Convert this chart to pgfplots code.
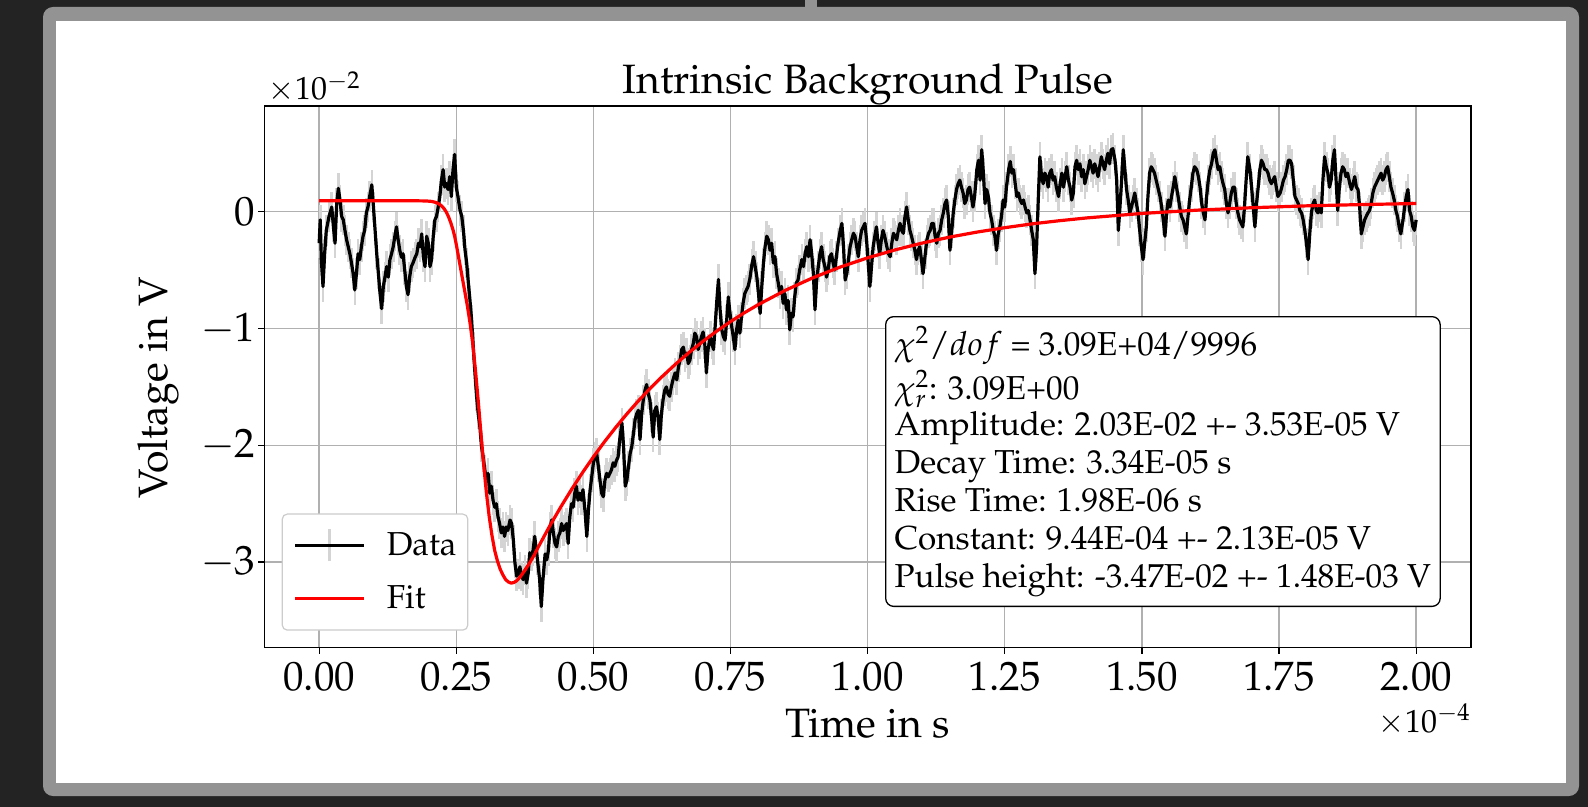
\documentclass[border=0pt]{standalone}
\usepackage[T1]{fontenc}
\usepackage{mathpazo}
\usepackage{pgfplots}
\usepackage{pgfplotstable}
\pgfplotsset{compat=1.18}
\definecolor{bgdark}{HTML}{232323}
\definecolor{framegray}{HTML}{939393}
\definecolor{gridgray}{HTML}{B0B0B0}
\definecolor{errgray}{HTML}{D4D4D4}
\definecolor{legborder}{HTML}{CCCCCC}
\newcommand{\bigfont}{\fontsize{20.5}{24}\selectfont}
\newcommand{\boxfont}{\fontsize{16.6}{18.9}\selectfont}
\newcommand{\legfont}{\fontsize{16.6}{19}\selectfont}
\newcommand{\offfont}{\fontsize{16}{19}\selectfont}

\pgfplotstableread{
t v
0.000 -0.27
0.002 -0.07
0.004 -0.41
0.007 -0.64
0.010 -0.36
0.013 -0.16
0.018 -0.04
0.023 0.04
0.026 -0.13
0.029 -0.27
0.032 0.07
0.035 0.20
0.038 0.10
0.041 -0.04
0.044 -0.07
0.047 -0.16
0.050 -0.24
0.053 -0.30
0.056 -0.36
0.059 -0.44
0.062 -0.53
0.065 -0.67
0.068 -0.53
0.071 -0.36
0.074 -0.41
0.077 -0.30
0.080 -0.21
0.083 -0.16
0.086 -0.01
0.089 0.04
0.092 0.13
0.096 0.23
0.099 0.04
0.102 -0.16
0.105 -0.36
0.108 -0.53
0.111 -0.70
0.114 -0.83
0.117 -0.64
0.120 -0.56
0.123 -0.47
0.126 -0.56
0.129 -0.41
0.132 -0.36
0.135 -0.30
0.138 -0.21
0.141 -0.13
0.144 -0.24
0.147 -0.33
0.150 -0.39
0.153 -0.36
0.156 -0.50
0.159 -0.64
0.162 -0.71
0.165 -0.56
0.168 -0.47
0.171 -0.44
0.175 -0.39
0.178 -0.36
0.181 -0.27
0.184 -0.30
0.187 -0.19
0.190 -0.39
0.193 -0.47
0.196 -0.21
0.199 -0.27
0.202 -0.47
0.205 -0.41
0.208 -0.21
0.211 -0.07
0.214 -0.04
0.217 0.04
0.220 0.13
0.223 0.27
0.226 0.36
0.229 0.21
0.232 0.24
0.235 0.19
0.238 0.30
0.241 0.13
0.244 0.36
0.247 0.49
0.250 0.21
0.253 0.13
0.257 0.01
0.260 -0.04
0.263 -0.16
0.266 -0.33
0.269 -0.44
0.272 -0.61
0.275 -0.76
0.278 -0.93
0.281 -1.16
0.284 -1.38
0.287 -1.58
0.290 -1.73
0.293 -1.84
0.296 -2.01
0.299 -2.10
0.302 -2.21
0.305 -2.30
0.308 -2.24
0.311 -2.41
0.314 -2.35
0.317 -2.47
0.320 -2.53
0.323 -2.50
0.326 -2.61
0.329 -2.67
0.332 -2.75
0.335 -2.70
0.338 -2.78
0.341 -2.70
0.344 -2.73
0.348 -2.64
0.351 -2.67
0.354 -2.81
0.357 -3.01
0.360 -3.12
0.363 -3.10
0.366 -3.04
0.369 -3.12
0.372 -3.15
0.375 -3.07
0.378 -3.18
0.381 -3.10
0.384 -2.92
0.387 -2.95
0.390 -2.90
0.393 -2.78
0.398 -2.98
0.402 -3.15
0.405 -3.38
0.408 -3.15
0.412 -2.93
0.415 -2.98
0.418 -2.90
0.421 -2.70
0.424 -2.64
0.427 -2.75
0.430 -2.84
0.433 -2.87
0.436 -2.78
0.439 -2.75
0.442 -2.67
0.445 -2.73
0.448 -2.70
0.451 -2.67
0.454 -2.84
0.457 -2.61
0.460 -2.50
0.463 -2.53
0.466 -2.41
0.469 -2.35
0.472 -2.47
0.475 -2.41
0.478 -2.47
0.481 -2.38
0.485 -2.58
0.488 -2.78
0.491 -2.55
0.494 -2.38
0.497 -2.27
0.500 -2.15
0.503 -2.10
0.506 -2.07
0.509 -2.18
0.512 -2.30
0.515 -2.41
0.518 -2.44
0.521 -2.30
0.524 -2.24
0.527 -2.27
0.530 -2.24
0.533 -2.21
0.536 -2.15
0.539 -2.18
0.542 -2.13
0.545 -2.10
0.548 -1.95
0.552 -1.81
0.555 -2.01
0.558 -2.35
0.561 -2.30
0.564 -2.18
0.567 -2.07
0.570 -2.01
0.573 -1.90
0.576 -1.78
0.579 -1.73
0.582 -1.70
0.585 -1.95
0.588 -1.73
0.591 -1.61
0.594 -1.53
0.597 -1.48
0.600 -1.56
0.603 -1.61
0.606 -1.76
0.609 -1.93
0.612 -1.70
0.615 -1.67
0.618 -1.76
0.621 -1.95
0.624 -1.73
0.627 -1.61
0.630 -1.53
0.633 -1.50
0.636 -1.56
0.639 -1.58
0.642 -1.50
0.645 -1.44
0.649 -1.38
0.652 -1.44
0.655 -1.33
0.658 -1.27
0.661 -1.18
0.664 -1.16
0.667 -1.24
0.670 -1.21
0.673 -1.30
0.676 -1.27
0.679 -1.18
0.682 -1.13
0.685 -1.04
0.688 -1.07
0.691 -1.18
0.694 -1.13
0.697 -1.07
0.700 -1.03
0.703 -1.13
0.706 -1.38
0.709 -1.18
0.713 -1.07
0.716 -1.13
0.719 -1.18
0.722 -0.98
0.725 -0.76
0.728 -0.58
0.731 -0.84
0.734 -1.01
0.737 -1.07
0.740 -1.10
0.743 -0.93
0.746 -0.73
0.749 -0.87
0.752 -0.98
0.755 -1.07
0.758 -1.18
0.761 -1.01
0.764 -0.93
0.767 -1.04
0.770 -0.90
0.773 -0.78
0.776 -0.70
0.779 -0.67
0.782 -0.64
0.785 -0.58
0.789 -0.45
0.792 -0.385
0.795 -0.47
0.798 -0.56
0.801 -0.70
0.804 -0.87
0.807 -0.64
0.810 -0.44
0.813 -0.30
0.816 -0.21
0.819 -0.24
0.822 -0.33
0.825 -0.27
0.828 -0.44
0.831 -0.385
0.834 -0.53
0.837 -0.61
0.840 -0.70
0.843 -0.64
0.846 -0.785
0.849 -0.70
0.852 -0.84
0.855 -0.76
0.858 -1.01
0.861 -0.87
0.864 -0.90
0.867 -0.73
0.870 -0.61
0.873 -0.585
0.876 -0.50
0.880 -0.41
0.883 -0.47
0.886 -0.36
0.889 -0.30
0.892 -0.385
0.895 -0.24
0.898 -0.36
0.901 -0.53
0.904 -0.84
0.907 -0.585
0.910 -0.47
0.913 -0.36
0.916 -0.30
0.919 -0.41
0.922 -0.47
0.925 -0.56
0.928 -0.50
0.931 -0.385
0.934 -0.36
0.937 -0.44
0.940 -0.50
0.943 -0.385
0.946 -0.27
0.950 -0.16
0.953 -0.10
0.956 -0.30
0.959 -0.585
0.962 -0.53
0.965 -0.41
0.968 -0.30
0.971 -0.24
0.974 -0.185
0.977 -0.21
0.980 -0.30
0.983 -0.385
0.986 -0.24
0.989 -0.16
0.992 -0.13
0.995 -0.10
0.998 -0.24
1.001 -0.44
1.004 -0.64
1.007 -0.47
1.010 -0.30
1.013 -0.21
1.016 -0.13
1.019 -0.27
1.022 -0.36
1.025 -0.24
1.028 -0.16
1.031 -0.21
1.035 -0.30
1.038 -0.36
1.041 -0.385
1.044 -0.27
1.047 -0.185
1.050 -0.21
1.053 -0.24
1.056 -0.16
1.059 -0.10
1.062 -0.16
1.065 -0.185
1.068 -0.04
1.071 0.04
1.074 -0.07
1.077 -0.16
1.080 -0.21
1.083 -0.27
1.086 -0.33
1.089 -0.41
1.092 -0.33
1.095 -0.30
1.098 -0.41
1.101 -0.53
1.105 -0.36
1.108 -0.24
1.111 -0.185
1.114 -0.16
1.117 -0.10
1.120 -0.10
1.123 -0.21
1.126 -0.27
1.129 -0.185
1.132 -0.16
1.135 -0.07
1.138 -0.01
1.141 0.07
1.144 0.10
1.147 -0.04
1.150 -0.33
1.153 -0.185
1.156 -0.01
1.159 0.10
1.162 0.19
1.165 0.24
1.168 0.27
1.171 0.21
1.174 0.16
1.177 0.07
1.180 0.10
1.183 0.19
1.186 0.21
1.189 0.13
1.192 0.04
1.195 0.13
1.199 0.36
1.202 0.44
1.205 0.27
1.208 0.53
1.211 0.33
1.214 0.07
1.217 0.19
1.220 0.13
1.223 -0.01
1.226 -0.07
1.229 -0.16
1.232 -0.21
1.235 -0.33
1.238 -0.19
1.241 -0.13
1.244 -0.04
1.247 0.10
1.250 0.04
1.253 0.21
1.257 0.36
1.260 0.43
1.263 0.33
1.266 0.36
1.269 0.24
1.272 0.13
1.275 0.16
1.278 0.10
1.281 0.07
1.284 0.10
1.287 0.04
1.290 -0.01
1.293 0.01
1.296 -0.07
1.299 -0.16
1.302 -0.24
1.305 -0.53
1.308 -0.30
1.311 0.10
1.314 0.47
1.317 0.30
1.320 0.24
1.323 0.33
1.326 0.30
1.329 0.21
1.332 0.33
1.335 0.36
1.338 0.27
1.341 0.30
1.344 0.21
1.348 0.13
1.351 0.24
1.354 0.33
1.357 0.21
1.360 0.30
1.363 0.385
1.366 0.27
1.369 0.21
1.372 0.10
1.375 0.16
1.378 0.385
1.381 0.44
1.384 0.36
1.387 0.41
1.390 0.30
1.393 0.36
1.396 0.24
1.399 0.30
1.402 0.36
1.405 0.44
1.408 0.385
1.411 0.33
1.414 0.41
1.417 0.36
1.420 0.30
1.423 0.385
1.426 0.47
1.429 0.41
1.432 0.36
1.435 0.44
1.438 0.50
1.441 0.41
1.444 0.53
1.447 0.54
1.451 0.44
1.454 0.27
1.457 -0.16
1.460 0.04
1.463 0.27
1.466 0.53
1.469 0.36
1.472 0.19
1.475 0.10
1.478 -0.01
1.481 0.04
1.484 0.10
1.487 0.16
1.490 0.07
1.493 -0.01
1.496 -0.16
1.499 -0.30
1.502 -0.41
1.505 -0.27
1.508 -0.13
1.511 0.13
1.514 0.33
1.517 0.385
1.520 0.36
1.523 0.33
1.526 0.27
1.529 0.21
1.533 0.13
1.536 0.04
1.539 -0.07
1.542 -0.21
1.545 -0.01
1.548 0.10
1.551 0.04
1.554 0.13
1.557 0.21
1.560 0.30
1.563 0.21
1.566 0.13
1.569 0.04
1.572 -0.04
1.575 -0.07
1.578 -0.13
1.581 -0.19
1.584 -0.04
1.587 0.10
1.590 0.21
1.593 0.33
1.596 0.385
1.600 0.36
1.603 0.30
1.606 0.21
1.609 0.07
1.612 -0.01
1.615 -0.07
1.618 0.13
1.621 0.27
1.624 0.36
1.627 0.41
1.630 0.50
1.633 0.53
1.636 0.44
1.639 0.36
1.642 0.385
1.645 0.30
1.648 0.24
1.651 0.19
1.654 0.07
1.657 -0.01
1.660 0.07
1.663 0.16
1.666 0.21
1.669 0.21
1.672 0.07
1.675 -0.01
1.678 -0.07
1.681 -0.10
1.684 -0.13
1.687 0.04
1.690 0.27
1.693 0.47
1.697 0.36
1.700 0.21
1.703 0.04
1.706 -0.13
1.709 0.07
1.712 0.21
1.715 0.36
1.718 0.44
1.721 0.41
1.724 0.36
1.727 0.36
1.730 0.33
1.733 0.27
1.736 0.24
1.739 0.27
1.742 0.30
1.745 0.21
1.748 0.13
1.752 0.16
1.755 0.21
1.758 0.27
1.761 0.30
1.764 0.36
1.767 0.44
1.770 0.44
1.773 0.41
1.776 0.27
1.779 0.13
1.782 0.10
1.785 0.07
1.788 0.01
1.791 -0.01
1.794 -0.07
1.797 -0.16
1.800 -0.27
1.803 -0.41
1.806 -0.19
1.809 -0.01
1.812 0.07
1.815 0.10
1.818 0.01
1.821 -0.01
1.824 0.04
1.827 -0.01
1.830 0.27
1.833 0.47
1.836 0.385
1.839 0.33
1.842 0.21
1.845 0.27
1.848 0.44
1.851 0.53
1.854 0.27
1.857 0.01
1.860 0.21
1.863 0.33
1.866 0.385
1.869 0.36
1.872 0.30
1.875 0.33
1.879 0.24
1.882 0.19
1.885 0.24
1.888 0.30
1.891 0.21
1.894 0.19
1.897 0.04
1.900 -0.19
1.903 -0.13
1.906 -0.07
1.909 -0.04
1.912 -0.01
1.915 0.01
1.918 0.07
1.921 0.16
1.924 0.21
1.927 0.24
1.930 0.27
1.933 0.30
1.936 0.33
1.939 0.27
1.942 0.30
1.945 0.36
1.948 0.385
1.951 0.30
1.954 0.21
1.957 0.16
1.960 0.10
1.963 0.01
1.966 -0.04
1.969 -0.13
1.972 -0.19
1.976 -0.07
1.979 0.04
1.982 0.13
1.985 0.19
1.988 0.01
1.991 -0.04
1.994 -0.13
1.997 -0.16
2.000 -0.07
}\datatable

\begin{document}
\begin{tikzpicture}
\fill[bgdark] (0pt,0pt) rectangle (794pt,-403.5pt);
\fill[framegray, rounded corners=5pt] (21.5pt,-3.5pt) rectangle (789.5pt,-398pt);
\fill[framegray] (402.5pt,0pt) rectangle (408.3pt,-4pt);
\fill[white] (28pt,-10.5pt) rectangle (783pt,-391.5pt);

\begin{axis}[
  at={(132.15pt,-323.85pt)}, anchor=south west,
  scale only axis, width=603.35pt, height=270.85pt,
  xmin=-0.1, xmax=2.1, ymin=-3.733, ymax=0.905,
  xtick={0,0.25,0.5,0.75,1,1.25,1.5,1.75,2},
  ytick={-3,-2,-1,0},
  tick pos=left,
  tick align=outside, major tick length=3pt,
  tick style={black, line width=0.6pt},
  tick label style={font=\bigfont},
  xticklabel style={/pgf/number format/.cd, fixed, fixed zerofill, precision=2, /tikz/.cd, anchor=north, inner sep=0pt, yshift=-4pt},
  yticklabel style={anchor=east, inner sep=0pt, xshift=-1.3pt},
  grid=major, major grid style={gridgray, line width=0.7pt},
  axis line style={black, line width=0.65pt},
  every axis title/.style={at={(axis description cs:0.5,1)}, anchor=base, yshift=6.35pt, font=\bigfont},
  every axis x label/.style={at={(axis description cs:0.5,0)}, anchor=base, yshift=-44.65pt, font=\bigfont},
  every axis y label/.style={at={(axis description cs:0,0.4794)}, xshift=-48.65pt, rotate=90, anchor=base, font=\bigfont},
  title={Intrinsic Background Pulse},
  xlabel={Time in s},
  ylabel={Voltage in V},
  legend cell align=left,
  legend style={at={(0.0144,0.0314)}, anchor=south west, draw=legborder, line width=0.6pt,
    rounded corners=2.5pt, fill=white, inner xsep=5.65pt, inner ysep=9.1pt,
    font=\legfont, row sep=13.8pt, nodes={inner sep=0pt},
    /tikz/every odd column/.append style={column sep=10.5pt}},
]
\addplot[forget plot, draw=none, mark=none,
  error bars/.cd, y dir=both, y fixed=0.13, error mark=none,
  error bar style={draw=errgray, line width=1.3pt}] table[x=t,y=v] {\datatable};
\addplot[black, line width=1.6pt, line join=round, mark=none,
  legend image code/.code={
    \draw[overlay, errgray, line width=1.5pt] (17.25pt,-7.9pt) -- (17.25pt,7.9pt);
    \draw[black, line width=1.3pt] (0pt,0pt) -- (34.5pt,0pt);}]
  table[x=t,y=v] {\datatable};
\addlegendentry{Data}
\addplot[red, line width=1.6pt, line join=round, mark=none,
  legend image code/.code={\draw[red, line width=1.6pt] (0pt,0pt) -- (34.5pt,0pt);}]
  coordinates {
  (0.000,0.094) (0.100,0.094) (0.180,0.093) (0.195,0.092) (0.205,0.088) (0.212,0.080)
  (0.218,0.068) (0.223,0.050) (0.228,0.025) (0.232,-0.005) (0.236,-0.045) (0.240,-0.095)
  (0.244,-0.155) (0.247,-0.21) (0.250,-0.28) (0.255,-0.41) (0.260,-0.54) (0.265,-0.67)
  (0.270,-0.80) (0.275,-0.95) (0.280,-1.13) (0.285,-1.36) (0.290,-1.62) (0.295,-1.90)
  (0.300,-2.17) (0.305,-2.41) (0.310,-2.61) (0.315,-2.77) (0.320,-2.90) (0.325,-2.99)
  (0.330,-3.06) (0.335,-3.11) (0.340,-3.15) (0.345,-3.17) (0.350,-3.18) (0.355,-3.175)
  (0.360,-3.16) (0.366,-3.13) (0.375,-3.07) (0.384,-3.005) (0.392,-2.94) (0.400,-2.867)
  (0.420,-2.694) (0.440,-2.532) (0.460,-2.379) (0.480,-2.235) (0.500,-2.099) (0.520,-1.971)
  (0.540,-1.851) (0.560,-1.737) (0.580,-1.630) (0.600,-1.530) (0.625,-1.413) (0.650,-1.304)
  (0.675,-1.203) (0.700,-1.109) (0.725,-1.022) (0.750,-0.941) (0.775,-0.866) (0.800,-0.797)
  (0.850,-0.673) (0.900,-0.566) (0.950,-0.474) (1.000,-0.395) (1.050,-0.327) (1.100,-0.268)
  (1.150,-0.217) (1.200,-0.174) (1.250,-0.137) (1.300,-0.104) (1.350,-0.077) (1.400,-0.053)
  (1.500,-0.015) (1.600,0.013) (1.700,0.034) (1.800,0.050) (1.900,0.061) (2.000,0.070)
  };
\addlegendentry{Fit}
\node[draw=black, line width=0.65pt, fill=white, rounded corners=4pt, anchor=north west,
  inner xsep=4.5pt, inner ysep=5pt, align=left, font=\boxfont]
  at (rel axis cs:0.5144,0.6123)
  {$\chi^2/dof$ = 3.09E+04/9996\\[1.4pt]
   $\chi^2_r$: 3.09E+00\\[-0.6pt]
   Amplitude: 2.03E-02 +- 3.53E-05 V\\
   Decay Time: 3.34E-05 s\\
   Rise Time: 1.98E-06 s\\
   Constant: 9.44E-04 +- 2.13E-05 V\\
   Pulse height: -3.47E-02 +- 1.48E-03 V};
\end{axis}
\node[anchor=base west, font=\offfont, inner sep=0pt] at (134pt,-50pt) {$\times10^{-2}$};
\node[anchor=base east, font=\offfont, inner sep=0pt] at (735.5pt,-366pt) {$\times10^{-4}$};
\end{tikzpicture}
\end{document}
